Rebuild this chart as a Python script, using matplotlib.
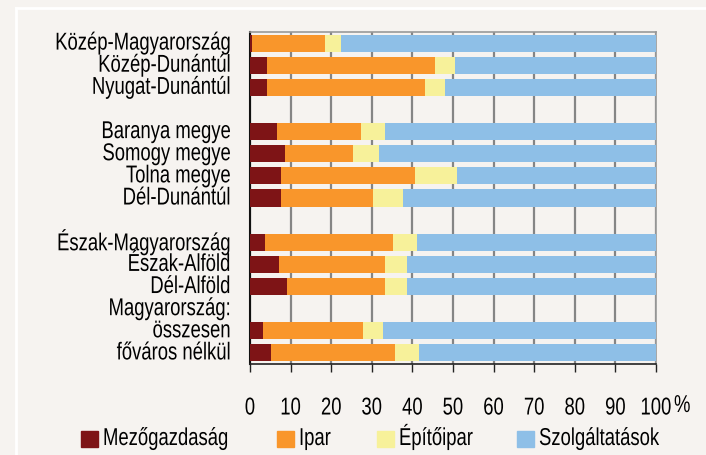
import matplotlib
matplotlib.use("Agg")
import matplotlib.pyplot as plt
from matplotlib.lines import Line2D
from matplotlib.patches import Rectangle
from matplotlib.patheffects import AbstractPathEffect
from matplotlib.transforms import Affine2D

plt.rcParams['font.family'] = ['Liberation Sans', 'DejaVu Sans']

# rows top to bottom; None = empty slot (spacer / label only)
labels = ['Közép-Magyarország', 'Közép-Dunántúl', 'Nyugat-Dunántúl', '',
          'Baranya megye', 'Somogy megye', 'Tolna megye', 'Dél-Dunántúl', '',
          'Észak-Magyarország', 'Észak-Alföld', 'Dél-Alföld', 'Magyarország:',
          'összesen', 'főváros nélkül']
mezogazdasag = [0.5, 4.2, 4.2, None, 6.6, 8.6, 7.6, 7.6, None, 3.7, 7.1, 9.1, None, 3.2, 5.1]
ipar = [18.0, 41.4, 38.9, None, 20.7, 16.8, 33.0, 22.7, None, 31.5, 26.2, 24.2, None, 24.6, 30.6]
epitoipar = [4.0, 4.9, 4.9, None, 6.0, 6.4, 10.4, 7.4, None, 5.9, 5.4, 5.4, None, 5.0, 5.9]

series = ['Mezőgazdaság', 'Ipar', 'Építőipar', 'Szolgáltatások']
colors = ['#7e1416', '#f9962b', '#f7f19a', '#8ebfe7']
bg = '#f6f3f0'
fs = 13.3


# the original uses a narrow font: stretch glyphs vertically instead
class Stretch(AbstractPathEffect):
    def __init__(self, sy):
        super().__init__()
        self.sy = sy

    def draw_path(self, renderer, gc, tpath, affine, rgbFace=None):
        renderer.draw_path(gc, tpath, Affine2D().scale(1, self.sy) + affine, rgbFace)


pe = [Stretch(1.32)]

fig = plt.figure(figsize=(7.06, 4.56), dpi=100, facecolor=bg)
ax = fig.add_axes([250/706, 1-365/456, 406/706, 332/456], facecolor=bg)

# white frame lines
fig.add_artist(Line2D([16/706, 16/706], [0, 1-9/456], color='white', lw=2, transform=fig.transFigure))
fig.add_artist(Line2D([16/706, 1], [1-9/456, 1-9/456], color='white', lw=2, transform=fig.transFigure))

n = len(labels)
for i in range(n):
    if mezogazdasag[i] is None:
        continue
    vals = [mezogazdasag[i], ipar[i], epitoipar[i]]
    vals.append(100 - sum(vals))
    left = 0
    for v, c in zip(vals, colors):
        ax.barh(i, v, left=left, height=0.77, color=c, zorder=3)
        left += v

ax.set_xlim(0, 100)
ax.set_ylim(n - 0.5, -0.5)
ax.set_xticks(range(0, 101, 10))
ax.set_xticklabels([str(x) for x in range(0, 101, 10)], fontsize=fs)
ax.set_yticks(range(n))
ax.set_yticklabels(labels, fontsize=fs)
ax.tick_params(axis='y', length=0, pad=14)
ax.tick_params(axis='x', length=6, width=1, color='#222222', pad=21, direction='out')
for t in ax.get_xticklabels() + ax.get_yticklabels():
    t.set_path_effects(pe)
ax.grid(axis='x', color='#858585', lw=1.6, zorder=0)
ax.set_axisbelow(True)
for s in ['top', 'right']:
    ax.spines[s].set_color('#999999')
    ax.spines[s].set_linewidth(1.2)
ax.spines['left'].set_color('#111111')
ax.spines['left'].set_linewidth(1.5)
ax.spines['bottom'].set_color('#222222')
ax.spines['bottom'].set_linewidth(1.2)

# percent sign after the 100 label
fig.text(674/706, 1-413/456, '%', fontsize=fs, ha='left', va='baseline', path_effects=pe)

# legend, placed by hand
sq_x = [81, 277, 377, 517]
for x, c, name in zip(sq_x, colors, series):
    fig.add_artist(Rectangle((x/706, 1-448/456), 17/706, 16/456, color=c,
                             transform=fig.transFigure))
    fig.text((x + 22)/706, 1-446/456, name, fontsize=fs, ha='left', va='baseline', path_effects=pe)

fig.savefig('out.png', dpi=100, facecolor=bg)
